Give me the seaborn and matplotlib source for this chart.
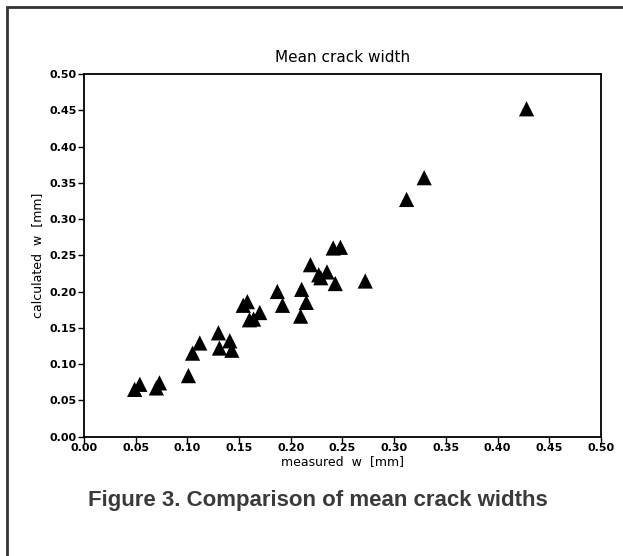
import pandas as pd
import seaborn as sns
import matplotlib.pyplot as plt
from matplotlib.patches import Rectangle

# values
measured = [0.049, 0.054, 0.070, 0.073, 0.101, 0.105, 0.112, 0.130, 0.131, 0.141,
            0.143, 0.154, 0.158, 0.160, 0.164, 0.170, 0.187, 0.192, 0.2105, 0.215,
            0.2095, 0.219, 0.227, 0.235, 0.229, 0.243, 0.272, 0.241, 0.248, 0.312,
            0.329, 0.428]
calculated = [0.065, 0.072, 0.067, 0.074, 0.084, 0.115, 0.129, 0.143, 0.122, 0.132,
              0.119, 0.181, 0.186, 0.161, 0.162, 0.171, 0.200, 0.181, 0.203, 0.185,
              0.166, 0.237, 0.223, 0.227, 0.219, 0.211, 0.2145, 0.260, 0.261, 0.327,
              0.357, 0.452]
ticks = [0.00, 0.05, 0.10, 0.15, 0.20, 0.25, 0.30, 0.35, 0.40, 0.45, 0.50]
tick_labels = ['%.2f' % t for t in ticks]

df = pd.DataFrame({'measured': measured, 'calculated': calculated})

sns.set_style('white')
plt.rcParams['font.family'] = ['DejaVu Sans']
plt.rcParams['text.color'] = 'black'
plt.rcParams['axes.labelcolor'] = 'black'
plt.rcParams['xtick.color'] = 'black'
plt.rcParams['ytick.color'] = 'black'

fig = plt.figure(figsize=(6.23, 5.56), dpi=100)
ax = fig.add_axes([0.1348, 0.2149, 0.8299, 0.652])

sns.scatterplot(x='measured', y='calculated', data=df, marker='^', s=120,
                color='black', edgecolor='none', ax=ax, legend=False)

ax.set_xlim(0, 0.5)
ax.set_ylim(0, 0.5)
ax.set_xticks(ticks)
ax.set_yticks(ticks)
ax.set_xticklabels(tick_labels, fontsize=8, fontweight='bold')
ax.set_yticklabels(tick_labels, fontsize=8, fontweight='bold')
ax.tick_params(bottom=True, left=True, direction='out', length=4, width=1,
               color='black', pad=1)
for sp in ax.spines.values():
    sp.set_color('black')
    sp.set_linewidth(1.3)

ax.set_title('Mean crack width', fontsize=11, pad=9, color='black')
ax.set_xlabel('measured  w  [mm]', fontsize=9, labelpad=1)
ax.set_ylabel('calculated  w  [mm]', fontsize=9, labelpad=4)

fig.text(0.511, 0.10, 'Figure 3. Comparison of mean crack widths',
         ha='center', va='center', fontsize=16, fontweight='bold',
         color='#3a3a3a', family='Liberation Sans')

# outer frame, cut at right and bottom edges like the scan
fig.patches.append(Rectangle((0.0105, -0.05), 1.1, 1.0374, transform=fig.transFigure,
                             fill=False, edgecolor='#333333', linewidth=2))

fig.savefig('out.png', dpi=100)
